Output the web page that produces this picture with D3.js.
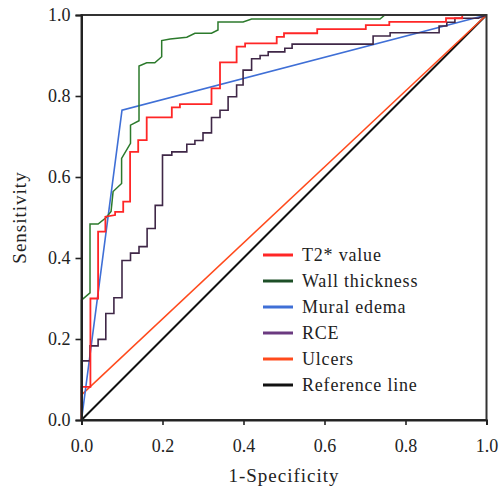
<!DOCTYPE html>
<html>
<head>
<meta charset="utf-8">
<script src="https://cdn.jsdelivr.net/npm/d3@7"></script>
<style>
  html, body { margin: 0; padding: 0; background: #fff; }
  svg { display: block; }
  text { font-family: "Liberation Serif", "DejaVu Serif", serif; fill: #222; }
</style>
</head>
<body>
<script>
// ROC curves: 1-Specificity (x) vs Sensitivity (y)
const seriesNames = ["T2* value", "Wall thickness", "Mural edema", "RCE", "Ulcers", "Reference line"];
const seriesColors = ["#ff2626", "#2c7a2c", "#3f6fd6", "#3f2747", "#ff4a1c", "#111111"];
const legendColors = ["#ff2626", "#1d4f27", "#3f6fd6", "#6b3a80", "#ff4a1c", "#111111"];

const t2Points = [
  [0,0],[0,0.082],[0.022,0.082],[0.022,0.30],[0.041,0.30],[0.041,0.465],[0.059,0.465],
  [0.059,0.502],[0.083,0.506],[0.083,0.514],[0.103,0.514],[0.103,0.539],[0.12,0.539],
  [0.12,0.662],[0.14,0.662],[0.14,0.691],[0.161,0.691],[0.161,0.747],[0.223,0.747],
  [0.223,0.772],[0.243,0.772],[0.243,0.78],[0.321,0.78],[0.321,0.819],[0.342,0.819],
  [0.342,0.883],[0.383,0.883],[0.383,0.922],[0.404,0.922],[0.404,0.93],[0.482,0.93],
  [0.482,0.946],[0.5,0.946],[0.5,0.955],[0.582,0.955],[0.582,0.965],[0.702,0.965],
  [0.702,0.975],[0.76,0.975],[0.76,0.983],[0.9,0.983],[0.9,0.992],[0.94,0.992],[0.94,1],[1,1]
];
const wallPoints = [
  [0,0],[0,0.296],[0.021,0.314],[0.021,0.484],[0.041,0.484],[0.061,0.5],[0.073,0.515],
  [0.078,0.564],[0.099,0.584],[0.099,0.646],[0.121,0.683],[0.121,0.728],[0.142,0.739],
  [0.142,0.874],[0.161,0.882],[0.181,0.882],[0.198,0.897],[0.198,0.937],[0.219,0.941],
  [0.26,0.945],[0.28,0.955],[0.321,0.955],[0.337,0.963],[0.337,0.983],[0.399,0.983],
  [0.42,0.99],[0.737,0.99],[0.749,1],[1,1]
];
const edemaPoints = [[0,0],[0.1,0.765],[1,1]];
const rcePoints = [
  [0,0],[0,0.146],[0.021,0.146],[0.021,0.183],[0.041,0.183],[0.041,0.199],[0.06,0.199],
  [0.06,0.263],[0.08,0.263],[0.08,0.302],[0.1,0.302],[0.1,0.394],[0.121,0.394],
  [0.121,0.412],[0.142,0.412],[0.142,0.428],[0.162,0.428],[0.162,0.473],[0.182,0.473],
  [0.182,0.53],[0.2,0.53],[0.2,0.654],[0.223,0.654],[0.223,0.662],[0.26,0.662],
  [0.26,0.681],[0.28,0.681],[0.28,0.69],[0.3,0.69],[0.3,0.709],[0.321,0.709],
  [0.321,0.747],[0.342,0.747],[0.342,0.765],[0.362,0.765],[0.362,0.798],[0.383,0.798],
  [0.383,0.827],[0.399,0.827],[0.399,0.864],[0.42,0.864],[0.42,0.892],[0.441,0.892],
  [0.441,0.9],[0.461,0.9],[0.461,0.909],[0.502,0.909],[0.502,0.918],[0.52,0.918],
  [0.52,0.928],[0.72,0.928],[0.72,0.948],[0.762,0.948],[0.762,0.956],[0.883,0.956],
  [0.883,0.973],[0.902,0.973],[0.902,0.982],[0.922,0.982],[0.922,0.992],[0.98,0.992],[1,1]
];
const ulcerPoints = [[0,0.062],[1,1]];
const referencePoints = [[0,0],[1,1]];

const tickValues = [0, 0.2, 0.4, 0.6, 0.8, 1.0];
const xTitle = "1-Specificity";
const yTitle = "Sensitivity";

const W = 504, H = 492;
const margin = { left: 81.5, top: 15, right: 17.5, bottom: 72 };
const plotW = W - margin.left - margin.right;
const plotH = H - margin.top - margin.bottom;

const svg = d3.select("body").append("svg").attr("width", W).attr("height", H);
const g = svg.append("g").attr("transform", `translate(${margin.left},${margin.top})`);

const x = d3.scaleLinear().domain([0, 1]).range([0, plotW]);
const y = d3.scaleLinear().domain([0, 1]).range([plotH, 0]);
const line = d3.line().x(d => x(d[0])).y(d => y(d[1]));

// curves, drawn back to front
const drawOrder = [
  { pts: referencePoints, i: 5, w: 2 },
  { pts: ulcerPoints, i: 4, w: 1.5 },
  { pts: edemaPoints, i: 2, w: 1.6 },
  { pts: rcePoints, i: 3, w: 1.6 },
  { pts: wallPoints, i: 1, w: 1.5 },
  { pts: t2Points, i: 0, w: 1.8 }
];
drawOrder.forEach(s => {
  g.append("path").datum(s.pts)
    .attr("d", line)
    .attr("fill", "none")
    .attr("stroke", seriesColors[s.i])
    .attr("stroke-width", s.w)
    .attr("stroke-linejoin", "miter");
});

// plot frame
g.append("rect").attr("x", 0).attr("y", 0).attr("width", plotW).attr("height", plotH)
  .attr("fill", "none").attr("stroke", "#333").attr("stroke-width", 2);

const fmt = d3.format(".1f");
const xAxis = g.append("g").attr("transform", `translate(0,${plotH})`)
  .call(d3.axisBottom(x).tickValues(tickValues).tickFormat(fmt).tickSize(5).tickPadding(14));
const yAxis = g.append("g")
  .call(d3.axisLeft(y).tickValues(tickValues).tickFormat(fmt).tickSize(6).tickPadding(5));
[xAxis, yAxis].forEach(a => {
  a.select(".domain").attr("stroke", "#222").attr("stroke-width", 2);
  a.selectAll(".tick line").attr("stroke", "#222").attr("stroke-width", 1.6);
  a.selectAll(".tick text").attr("font-family", "Liberation Serif, serif")
    .attr("font-size", 18).attr("fill", "#222");
});

// axis titles
svg.append("text")
  .attr("x", margin.left + plotW / 2).attr("y", 482)
  .attr("text-anchor", "middle").attr("font-size", 19).attr("letter-spacing", 1)
  .text(xTitle);
svg.append("text")
  .attr("transform", `translate(26,${margin.top + plotH / 2}) rotate(-90)`)
  .attr("text-anchor", "middle").attr("font-size", 19).attr("letter-spacing", 1)
  .text(yTitle);

// legend
const legend = svg.append("g").attr("transform", "translate(263,255)");
seriesNames.forEach((name, i) => {
  const row = legend.append("g").attr("transform", `translate(0,${i * 26})`);
  row.append("line").attr("x1", 0).attr("x2", 30).attr("y1", 0).attr("y2", 0)
    .attr("stroke", legendColors[i]).attr("stroke-width", 3);
  row.append("text").attr("x", 39).attr("y", 0).attr("dy", "0.35em")
    .attr("font-size", 18).attr("letter-spacing", 0.8).text(name);
});
</script>
</body>
</html>
